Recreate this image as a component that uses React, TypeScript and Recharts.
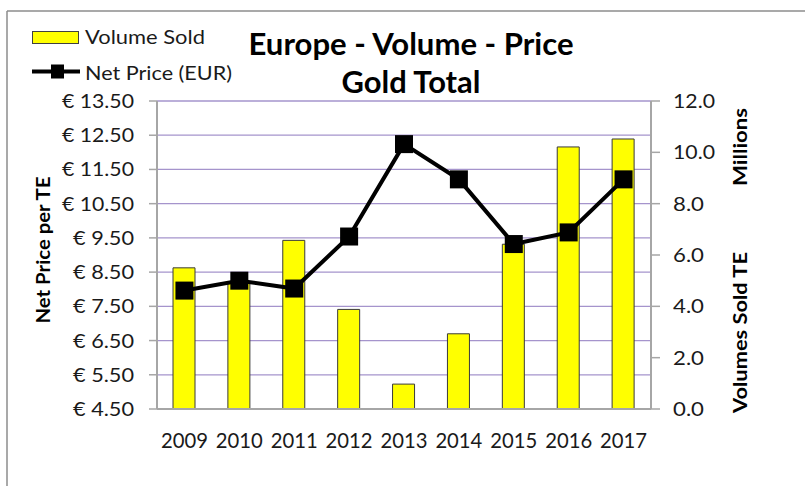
import React from 'react';
import { ComposedChart, Bar, Line, XAxis, YAxis, CartesianGrid, Legend } from 'recharts';

const years = ['2009', '2010', '2011', '2012', '2013', '2014', '2015', '2016', '2017'];
const volumeSold = [5.5, 4.9, 6.57, 3.88, 0.97, 2.93, 6.42, 10.21, 10.52];
const netPrice = [7.96, 8.25, 8.02, 9.54, 12.24, 11.21, 9.32, 9.66, 11.21];
const priceTicks = [4.5, 5.5, 6.5, 7.5, 8.5, 9.5, 10.5, 11.5, 12.5, 13.5];
const volumeTicks = [0, 2, 4, 6, 8, 10, 12];

const data = years.map((y, i) => ({ year: y, vol: volumeSold[i], price: netPrice[i] }));

const FONT = 'Lato, Carlito, "Open Sans", sans-serif';
const GRID = '#a594cc';
const AXIS = '#a6a6a6';
const TEXT = '#1a1a1a';

const LeftTick = (props: any) => {
  const { x, y, payload } = props;
  const label = `€ ${Number(payload.value).toFixed(2)}`;
  return (
    <text x={x} y={y + 7} textAnchor="end" fontFamily={FONT} fontSize={19} fill={TEXT}
      textLength={label.length === 7 ? 72 : 61} lengthAdjust="spacingAndGlyphs">
      {label}
    </text>
  );
};

const RightTick = (props: any) => {
  const { x, y, payload } = props;
  const label = Number(payload.value).toFixed(1);
  return (
    <text x={x} y={y + 7} textAnchor="start" fontFamily={FONT} fontSize={19} fill={TEXT}
      textLength={label.length === 4 ? 42 : 31} lengthAdjust="spacingAndGlyphs">
      {label}
    </text>
  );
};

const BottomTick = (props: any) => {
  const { x, y, payload } = props;
  return (
    <text x={x} y={y + 39} textAnchor="middle" fontFamily={FONT} fontSize={21} fill={TEXT}
      textLength={47} lengthAdjust="spacingAndGlyphs">
      {payload.value}
    </text>
  );
};

const SquareDot = (props: any) => {
  const { cx, cy, index } = props;
  if (cx == null || cy == null) return null;
  return <rect key={`d${index}`} x={cx - 9} y={cy - 9} width={18} height={18} fill="#000" />;
};

const LegendContent = (props: any) => {
  const payload = props.payload || [];
  return (
    <svg width={260} height={95} style={{ position: 'absolute', left: 0, top: 0 }}>
      {payload.map((p: any, i: number) => {
        if (p.dataKey === 'vol') {
          return (
            <g key={i}>
              <rect x={32.5} y={31.5} width={46} height={12} fill="#FFFF00" stroke="#404040" strokeWidth={1} />
              <text x={85} y={43.5} fontFamily={FONT} fontSize={19} fill={TEXT} textLength={120} lengthAdjust="spacingAndGlyphs">{p.value}</text>
            </g>
          );
        }
        return (
          <g key={i}>
            <line x1={32} y1={71.5} x2={80} y2={71.5} stroke="#000" strokeWidth={4} />
            <rect x={51} y={64.5} width={13} height={14} fill="#000" />
            <text x={85} y={79.5} fontFamily={FONT} fontSize={19} fill={TEXT} textLength={147} lengthAdjust="spacingAndGlyphs">{p.value}</text>
          </g>
        );
      })}
    </svg>
  );
};

export default function App() {
  return (
    <div style={{ position: 'absolute', left: 0, top: 0, width: 805, height: 486, background: '#fff' }}>
      <ComposedChart width={805} height={486} data={data}
        margin={{ top: 101, right: 94, left: 97, bottom: 37 }}>
        <CartesianGrid yAxisId="left" vertical={false} horizontal={true} stroke={GRID} strokeWidth={1.3} />
        <XAxis dataKey="year" height={40} axisLine={{ stroke: AXIS, strokeWidth: 2 }} tickLine={false}
          tickSize={0} tickMargin={0} tick={<BottomTick />} interval={0} />
        <YAxis yAxisId="left" width={60} domain={[4.5, 13.5]} ticks={priceTicks} type="number"
          axisLine={{ stroke: AXIS, strokeWidth: 2 }} tickLine={{ stroke: AXIS, strokeWidth: 1.5 }}
          tickSize={8} tickMargin={15} tick={<LeftTick />} interval={0} allowDataOverflow />
        <YAxis yAxisId="right" orientation="right" width={60} domain={[0, 12]} ticks={volumeTicks} type="number"
          axisLine={{ stroke: AXIS, strokeWidth: 2 }} tickLine={{ stroke: AXIS, strokeWidth: 1.5 }}
          tickSize={9} tickMargin={13} tick={<RightTick />} interval={0} allowDataOverflow />
        <Legend layout="vertical" align="center" verticalAlign="middle"
          wrapperStyle={{ left: 0, top: 0, width: 260, height: 95 }} content={<LegendContent />} />
        <Bar yAxisId="right" dataKey="vol" name="Volume Sold" fill="#FFFF00" stroke="#3a3a3a" strokeWidth={1}
          barSize={22} isAnimationActive={false} />
        <Line yAxisId="left" dataKey="price" name="Net Price (EUR)" type="linear" stroke="#000" strokeWidth={4}
          dot={<SquareDot />} activeDot={false} isAnimationActive={false} />
      </ComposedChart>
      <svg width={805} height={486} style={{ position: 'absolute', left: 0, top: 0, pointerEvents: 'none' }}>
        <line x1={7} y1={11} x2={805} y2={11} stroke="#8c8c8c" strokeWidth={1.5} />
        <line x1={7} y1={11} x2={7} y2={486} stroke="#8c8c8c" strokeWidth={1.5} />
        <text x={411} y={55} textAnchor="middle" fontFamily={FONT} fontWeight="bold" fontSize={30} fill="#000"
          textLength={325} lengthAdjust="spacingAndGlyphs">Europe - Volume - Price</text>
        <text x={411} y={93} textAnchor="middle" fontFamily={FONT} fontWeight="bold" fontSize={30} fill="#000"
          textLength={139} lengthAdjust="spacingAndGlyphs">Gold Total</text>
        <text x={49.5} y={250} transform="rotate(-90 49.5 250)" textAnchor="middle" fontFamily={FONT}
          fontWeight="bold" fontSize={19} fill="#000" textLength={147} lengthAdjust="spacingAndGlyphs">Net Price per TE</text>
        <text x={747} y={147} transform="rotate(-90 747 147)" textAnchor="middle" fontFamily={FONT}
          fontWeight="bold" fontSize={19} fill="#000" textLength={78} lengthAdjust="spacingAndGlyphs">Millions</text>
        <text x={747} y={332.5} transform="rotate(-90 747 332.5)" textAnchor="middle" fontFamily={FONT}
          fontWeight="bold" fontSize={19} fill="#000" textLength={161} lengthAdjust="spacingAndGlyphs">Volumes Sold TE</text>
      </svg>
    </div>
  );
}
